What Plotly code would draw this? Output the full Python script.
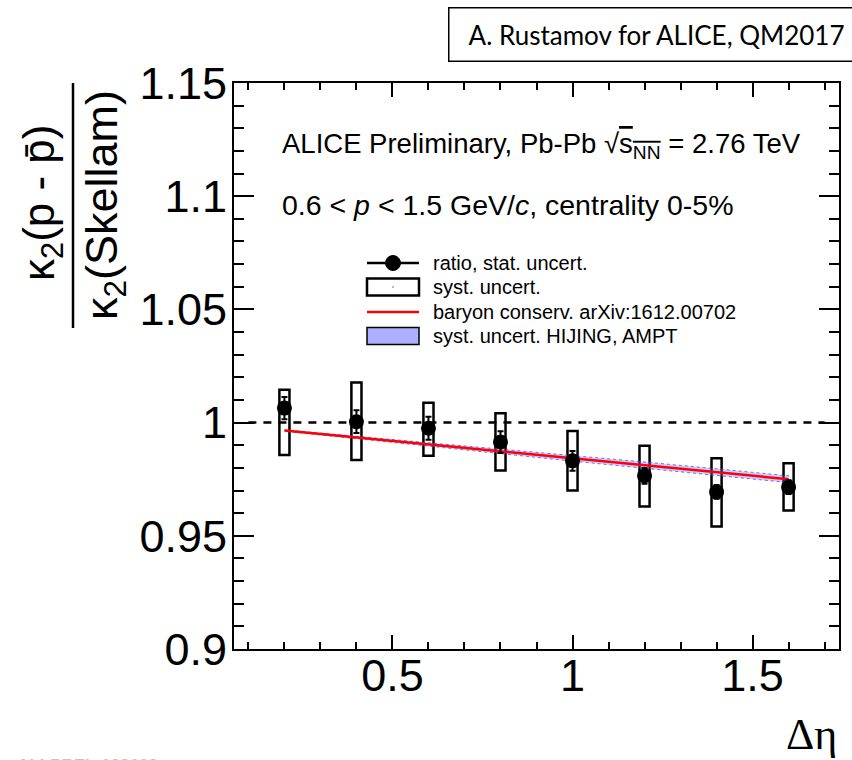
import plotly.graph_objects as go

# Delta-eta acceptance windows
delta_eta = [0.2, 0.4, 0.6, 0.8, 1.0, 1.2, 1.4, 1.6]
# kappa2(p - pbar) / kappa2(Skellam) with statistical uncertainty
ratio = [1.0064, 1.0004, 0.9975, 0.9914, 0.9831, 0.9765, 0.9694, 0.9715]
stat_err = [0.0049, 0.0050, 0.0051, 0.0048, 0.0044, 0.0035, 0.0030, 0.0030]
# systematic uncertainty boxes (lower / upper edge)
syst_low = [0.9857, 0.9835, 0.9854, 0.9788, 0.9700, 0.9629, 0.9541, 0.9612]
syst_high = [1.0145, 1.0177, 1.0088, 1.0041, 0.9963, 0.9898, 0.9843, 0.9821]
# baryon number conservation expectation and HIJING/AMPT band
bc_model = [0.9965, 0.9934, 0.9904, 0.9873, 0.9842, 0.9812, 0.9781, 0.9750]
model_low = [0.9962, 0.9928, 0.9896, 0.9863, 0.9830, 0.9798, 0.9766, 0.9735]
model_high = [0.9968, 0.9940, 0.9912, 0.9883, 0.9854, 0.9826, 0.9796, 0.9765]

x_tick_vals = [0.5, 1.0, 1.5]
x_tick_text = ["0.5", "1", "1.5"]
y_tick_vals = [0.9, 0.95, 1.0, 1.05, 1.1, 1.15]
y_tick_text = ["0.9", "0.95", "1", "1.05", "1.1", "1.15"]

W, H = 852, 760
L, R, T, B = 234, 839, 83, 649  # frame edges in pixels
SANS = "Liberation Sans"


def px(xp):
    return (xp - L) / (R - L)


def py(yp):
    return (B - yp) / (B - T)


fig = go.Figure()

# systematic boxes
fig.add_trace(go.Bar(
    x=delta_eta,
    y=[h - l for h, l in zip(syst_high, syst_low)],
    base=syst_low,
    width=0.028,
    marker=dict(color="rgba(0,0,0,0)", line=dict(color="black", width=2.5)),
    showlegend=False, hoverinfo="skip",
))

# unity reference
fig.add_trace(go.Scatter(
    x=[0.1, 1.7], y=[1.0, 1.0], mode="lines",
    line=dict(color="black", width=2.5, dash="8px,7px"),
    showlegend=False, hoverinfo="skip",
))

# HIJING / AMPT band
fig.add_trace(go.Scatter(
    x=delta_eta + delta_eta[::-1],
    y=model_high + model_low[::-1],
    mode="lines", fill="toself",
    fillcolor="rgba(110,110,255,0.35)",
    line=dict(color="rgba(60,60,255,0.7)", width=1, dash="dot"),
    showlegend=False, hoverinfo="skip",
))

# baryon conservation
fig.add_trace(go.Scatter(
    x=delta_eta, y=bc_model, mode="lines",
    line=dict(color="red", width=2.5),
    showlegend=False,
))

# data points
fig.add_trace(go.Scatter(
    x=delta_eta, y=ratio, mode="markers",
    marker=dict(size=15, color="black"),
    error_y=dict(type="data", array=stat_err, color="black", thickness=2, width=3),
    showlegend=False,
))

axis_common = dict(
    showline=True, linecolor="black", linewidth=2, mirror="allticks",
    ticks="inside", tickcolor="black", tickwidth=1.5,
    showgrid=False, zeroline=False,
    tickfont=dict(family=SANS, size=45, color="black"),
)

fig.update_xaxes(
    range=[0.06, 1.74], tickmode="array", tickvals=x_tick_vals, ticktext=x_tick_text,
    ticklen=14, ticklabelstandoff=-14,
    minor=dict(ticks="inside", ticklen=7, tickmode="linear", tick0=0, dtick=0.1,
               tickcolor="black", tickwidth=1.5),
    **axis_common,
)
fig.update_yaxes(
    range=[0.9, 1.15], tickmode="array", tickvals=y_tick_vals, ticktext=y_tick_text,
    ticklen=20, ticklabelstandoff=-4,
    minor=dict(ticks="inside", ticklen=10, tickmode="linear", tick0=0, dtick=0.01,
               tickcolor="black", tickwidth=1.5),
    **axis_common,
)

annotations = []
shapes = []

# y-axis title as a fraction
annotations.append(dict(
    text="κ<sub>2</sub>(p - p\u0304)", textangle=-90,
    x=px(42), y=py(203), xref="paper", yref="paper",
    xanchor="center", yanchor="middle", showarrow=False,
    font=dict(family=SANS, size=44, color="black"),
))
annotations.append(dict(
    text="κ<sub>2</sub>(Skellam)", textangle=-90,
    x=px(104), y=py(205), xref="paper", yref="paper",
    xanchor="center", yanchor="middle", showarrow=False,
    font=dict(family=SANS, size=45, color="black"),
))
shapes.append(dict(
    type="line", xref="paper", yref="paper",
    x0=px(73), x1=px(73), y0=py(83), y1=py(328),
    line=dict(color="black", width=2.5),
))

# x-axis title
annotations.append(dict(
    text="Δη", x=px(839), y=py(734), xref="paper", yref="paper",
    xanchor="right", yanchor="middle", showarrow=False,
    font=dict(family="Liberation Serif", size=44, color="black"),
))

# labels inside the frame
annotations.append(dict(
    text="ALICE Preliminary, Pb-Pb √<span style='text-decoration:overline'>s<sub>NN</sub></span> = 2.76 TeV",
    x=px(280), y=py(145), xref="paper", yref="paper",
    xanchor="left", yanchor="middle", showarrow=False,
    font=dict(family=SANS, size=27.5, color="black"),
))
annotations.append(dict(
    text="0.6 &lt; <i>p</i> &lt; 1.5 GeV/<i>c</i>, centrality 0-5%",
    x=px(280), y=py(205), xref="paper", yref="paper",
    xanchor="left", yanchor="middle", showarrow=False,
    font=dict(family=SANS, size=28.5, color="black"),
))

# speaker credit box
annotations.append(dict(
    text="A. Rustamov for ALICE, QM2017",
    x=px(448), y=py(7), xref="paper", yref="paper",
    xanchor="left", yanchor="top", showarrow=False,
    width=400, height=38, align="center", valign="middle",
    bordercolor="black", borderwidth=1.5, borderpad=7, bgcolor="white",
    font=dict(family="Lato", size=26, color="black"),
))

# preliminary figure id at the page foot
annotations.append(dict(
    text="<b>ALI-PREL-128638</b>",
    x=px(15), y=py(754), xref="paper", yref="paper",
    xanchor="left", yanchor="top", showarrow=False,
    font=dict(family=SANS, size=17, color="#c4c4c4"),
))

# legend
sym_l, sym_r = 367, 419
rows = [263, 287, 312, 336]
labels = ["ratio, stat. uncert.", "syst. uncert.",
          "baryon conserv. arXiv:1612.00702", "syst. uncert. HIJING, AMPT"]
for yy, lab in zip(rows, labels):
    annotations.append(dict(
        text=lab, x=px(431), y=py(yy), xref="paper", yref="paper",
        xanchor="left", yanchor="middle", showarrow=False,
        font=dict(family=SANS, size=20, color="black"),
    ))
# row 1: line + marker
shapes.append(dict(type="line", xref="paper", yref="paper",
                   x0=px(sym_l), x1=px(sym_r), y0=py(rows[0]), y1=py(rows[0]),
                   line=dict(color="black", width=2.5)))
shapes.append(dict(type="circle", xref="paper", yref="paper",
                   x0=px(393 - 7.5), x1=px(393 + 7.5), y0=py(rows[0] - 7.5), y1=py(rows[0] + 7.5),
                   fillcolor="black", line=dict(color="black", width=1)))
# row 2: open box
shapes.append(dict(type="rect", xref="paper", yref="paper",
                   x0=px(sym_l), x1=px(sym_r), y0=py(rows[1] - 8.5), y1=py(rows[1] + 8.5),
                   fillcolor="white", line=dict(color="black", width=2.5)))
shapes.append(dict(type="rect", xref="paper", yref="paper",
                   x0=px(392.5), x1=px(393.5), y0=py(rows[1] - 0.5), y1=py(rows[1] + 0.5),
                   fillcolor="black", line=dict(width=0)))
# row 3: red line
shapes.append(dict(type="line", xref="paper", yref="paper",
                   x0=px(sym_l), x1=px(sym_r), y0=py(rows[2]), y1=py(rows[2]),
                   line=dict(color="red", width=2.5)))
# row 4: blue band
shapes.append(dict(type="rect", xref="paper", yref="paper",
                   x0=px(sym_l), x1=px(sym_r), y0=py(rows[3] - 8.5), y1=py(rows[3] + 8.5),
                   fillcolor="rgba(110,110,255,0.55)", line=dict(color="black", width=1.5)))

fig.update_layout(
    width=W, height=H, autosize=False,
    margin=dict(l=L, r=W - R, t=T, b=H - B, pad=0),
    paper_bgcolor="white", plot_bgcolor="white",
    barmode="overlay", showlegend=False,
    annotations=annotations, shapes=shapes,
)

fig.write_html("out.html")
